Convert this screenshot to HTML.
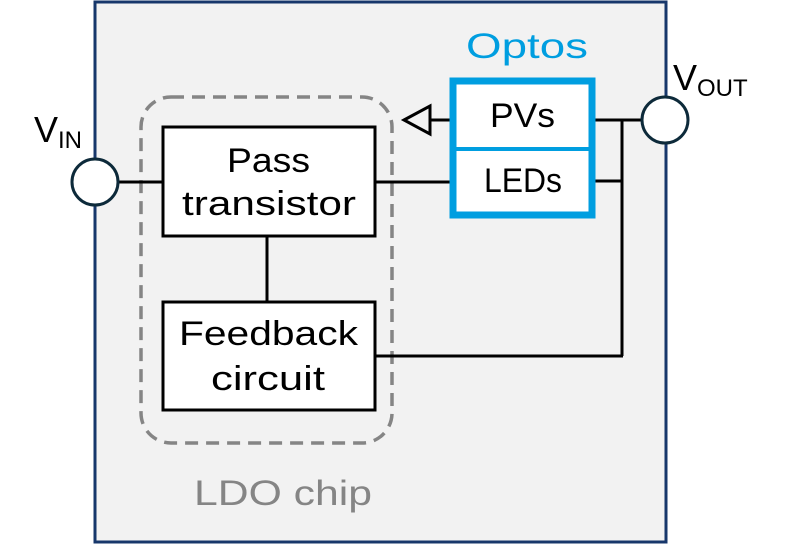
<!DOCTYPE html>
<html><head><style>body{margin:0;background:#fff}svg{display:block}</style></head><body>
<svg width="800" height="545" viewBox="0 0 800 545" xmlns="http://www.w3.org/2000/svg" font-family="Liberation Sans, sans-serif">
<rect x="95" y="2" width="571" height="540" fill="#f2f2f2" stroke="#17376b" stroke-width="3"/>
<rect x="141" y="97" width="251" height="346" rx="30" fill="none" stroke="#858585" stroke-width="3.5" stroke-dasharray="13,8"/>
<g stroke="#000" stroke-width="3" fill="none">
<line x1="119" y1="182" x2="163" y2="182"/>
<line x1="375" y1="182" x2="451" y2="182"/>
<line x1="267" y1="236" x2="267" y2="302"/>
<line x1="594" y1="120" x2="642" y2="120"/>
<line x1="594" y1="181" x2="622" y2="181"/>
<line x1="622" y1="120" x2="622" y2="356"/>
<line x1="375" y1="356" x2="623" y2="356"/>
<line x1="430" y1="120" x2="451" y2="120"/>
<polygon points="404,120 430,106 430,134" fill="#f2f2f2"/>
<rect x="163" y="127" width="212" height="109" fill="#fff"/>
<rect x="163" y="302" width="212" height="108" fill="#fff"/>
</g>
<rect x="453" y="81" width="139" height="134" fill="#fff" stroke="#009ee0" stroke-width="7"/>
<line x1="453" y1="149" x2="592" y2="149" stroke="#009ee0" stroke-width="4"/>
<g stroke="#0d2a3a" stroke-width="3" fill="#fff">
<circle cx="95" cy="182" r="23"/>
<circle cx="665" cy="120" r="23"/>
</g>
<g font-size="34" fill="#000" lengthAdjust="spacingAndGlyphs">
<text x="227" y="172" textLength="83" lengthAdjust="spacingAndGlyphs">Pass</text>
<text x="182" y="215" textLength="174" lengthAdjust="spacingAndGlyphs">transistor</text>
<text x="179" y="345" textLength="179" lengthAdjust="spacingAndGlyphs">Feedback</text>
<text x="211" y="390" textLength="114" lengthAdjust="spacingAndGlyphs">circuit</text>
<text x="490" y="127" textLength="65" lengthAdjust="spacingAndGlyphs">PVs</text>
<text x="484" y="192" textLength="78" lengthAdjust="spacingAndGlyphs">LEDs</text>
</g>
<text x="466" y="58" font-size="35" fill="#009ee0" textLength="122" lengthAdjust="spacingAndGlyphs">Optos</text>
<text x="194" y="505" font-size="35" fill="#858585" textLength="178" lengthAdjust="spacingAndGlyphs">LDO chip</text>
<text x="34" y="142" font-size="36">V<tspan font-size="24" dy="6">IN</tspan></text>
<text x="673" y="90" font-size="36">V<tspan font-size="24" dy="6">OUT</tspan></text>
</svg>
</body></html>
